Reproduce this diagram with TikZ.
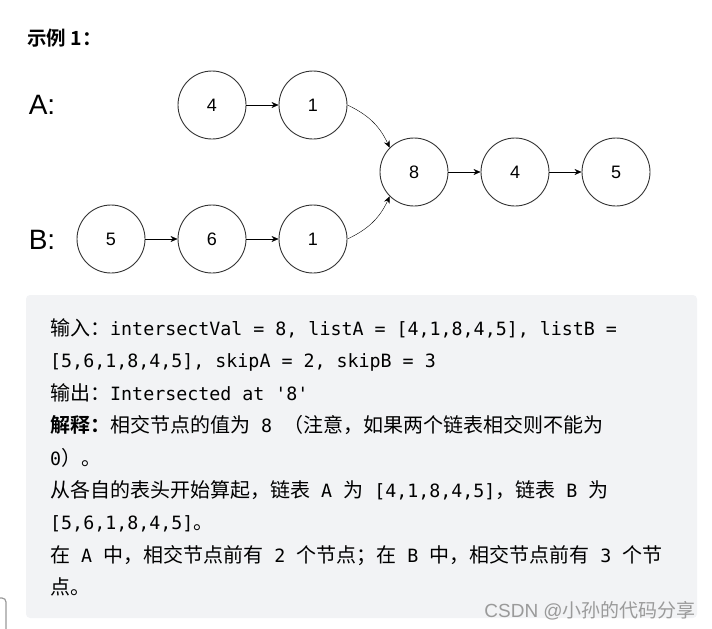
\documentclass[tikz,border=0pt]{standalone}
\usepackage{fontspec}
\usepackage{xcolor}
\usepackage{tikz}
\usetikzlibrary{arrows.meta}
\setmainfont{Liberation Sans}
\setmonofont{DejaVu Sans Mono}
\newfontfamily\cjk{Noto Sans CJK SC}[BoldFont={Noto Sans CJK SC Bold}]
\definecolor{boxgray}{HTML}{F2F3F5}
\definecolor{ringgray}{HTML}{333333}
\definecolor{markgray}{HTML}{9A9A9A}
\newcommand{\zh}[1]{{\cjk #1}}
\newcommand{\cd}[1]{{\ttfamily\fontsize{18.3}{22}\selectfont #1}}
\tikzset{
  listnode/.style={circle, draw=ringgray, line width=0.9pt, minimum size=68pt, inner sep=0pt,
    font=\fontsize{18}{20}\selectfont},
  textline/.style={anchor=base west, inner sep=0pt, font=\fontsize{20}{24}\selectfont}
}

\begin{document}
\begin{tikzpicture}[x=1pt, y=1pt, >={Stealth[length=7pt, width=6pt]}]
                \useasboundingbox (0,0) rectangle (712,-629);
                \node [anchor=west, inner sep=0pt] (title) at (27,-38) {\cjk\bfseries\fontsize{19.5}{22}\selectfont 示例 1：};
                \node [font=\fontsize{28}{32}\selectfont] (la) at (42,-105) {A:};
                \node [font=\fontsize{28}{32}\selectfont] (lb) at (42,-240) {B:};
                \node [listnode] (a4) at (212,-105) {4};
                \node [listnode] (a1) at (313,-105) {1};
                \node [listnode] (b5) at (111,-239) {5};
                \node [listnode] (b6) at (212,-239) {6};
                \node [listnode] (b1) at (313,-239) {1};
                \node [listnode] (c8) at (414,-172) {8};
                \node [listnode] (c4) at (515,-172) {4};
                \node [listnode] (c5) at (616,-172) {5};
                \draw [->] (a4) -- (a1);
                \draw [->] (b5) -- (b6);
                \draw [->] (b6) -- (b1);
                \draw [->] (c8) -- (c4);
                \draw [->] (c4) -- (c5);
                \draw [->] (a1.east) to [bend left=20] (c8.135);
                \draw [->] (b1.east) to [bend right=20] (c8.225);
                \fill [boxgray, rounded corners=4pt] (26,-295) rectangle (697,-618);
                \node [textline] (t1) at (50,-335) {\zh{输入：}\cd{intersectVal = 8, listA = [4,1,8,4,5], listB =}};
                \node [textline] (t2) at (50,-367) {\cd{[5,6,1,8,4,5], skipA = 2, skipB = 3}};
                \node [textline] (t3) at (50,-400) {\zh{输出：}\cd{Intersected at \textquotesingle 8\textquotesingle}};
                \node [textline] (t4) at (50,-432) {\zh{\bfseries 解释：}\zh{相交节点的值为}\cd{ 8 }\zh{（注意，如果两个链表相交则不能为}};
                \node [textline] (t5) at (50,-465) {\cd{0}\zh{）。}};
                \node [textline] (t6) at (50,-497) {\zh{从各自的表头开始算起，链表}\cd{ A }\zh{为}\cd{ [4,1,8,4,5]}\zh{，链表}\cd{ B }\zh{为}};
                \node [textline] (t7) at (50,-529) {\cd{[5,6,1,8,4,5]}\zh{。}};
                \node [textline] (t8) at (50,-562) {\zh{在}\cd{ A }\zh{中，相交节点前有}\cd{ 2 }\zh{个节点；在}\cd{ B }\zh{中，相交节点前有}\cd{ 3 }\zh{个节}};
                \node [textline] (t9) at (50,-594) {\zh{点。}};
                \node [anchor=base east, inner sep=0pt, text=markgray, font=\fontsize{19}{22}\selectfont] (wm) at (696,-617) {CSDN @\zh{小孙的代码分享}};
                \draw [markgray, line width=1.2pt, rounded corners=4pt] (0,-598) -- (6,-598) -- (6,-629);
            \end{tikzpicture}
\end{document}
